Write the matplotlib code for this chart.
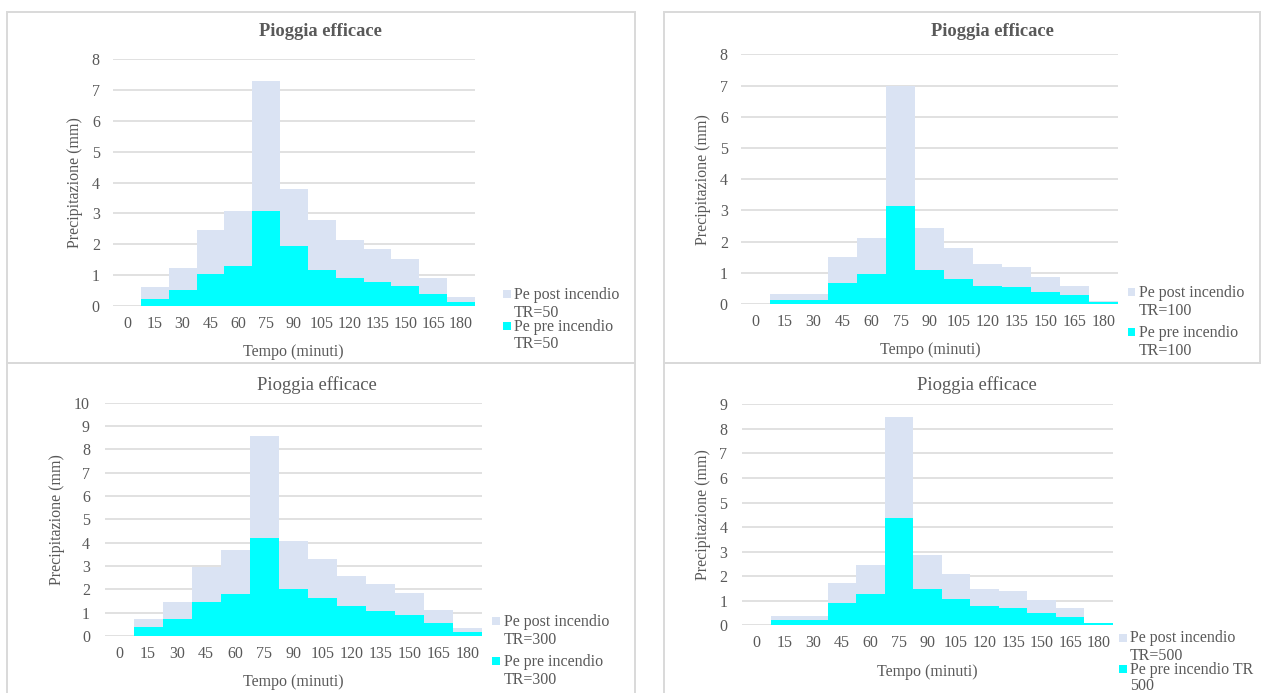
import matplotlib
matplotlib.use("Agg")
import matplotlib.pyplot as plt
from matplotlib.patches import Rectangle

# ---- data -------------------------------------------------------------
tempo = [0, 15, 30, 45, 60, 75, 90, 105, 120, 135, 150, 165, 180]

post_tr50 = [0, 0.61, 1.24, 2.46, 3.08, 7.30, 3.79, 2.78, 2.15, 1.85, 1.54, 0.92, 0.29]
pre_tr50 = [0, 0.24, 0.51, 1.04, 1.30, 3.07, 1.94, 1.17, 0.90, 0.78, 0.65, 0.38, 0.12]

post_tr100 = [0, 0.32, 0.32, 1.49, 2.12, 6.99, 2.44, 1.81, 1.27, 1.19, 0.88, 0.59, 0.10]
pre_tr100 = [0, 0.14, 0.14, 0.67, 0.96, 3.15, 1.10, 0.81, 0.59, 0.53, 0.40, 0.28, 0.05]

post_tr300 = [0, 0.74, 1.47, 2.96, 3.70, 8.57, 4.07, 3.31, 2.59, 2.21, 1.84, 1.10, 0.36]
pre_tr300 = [0, 0.37, 0.74, 1.46, 1.81, 4.21, 2.01, 1.64, 1.27, 1.09, 0.90, 0.54, 0.19]

post_tr500 = [0, 0.38, 0.38, 1.74, 2.47, 8.49, 2.85, 2.10, 1.49, 1.40, 1.03, 0.71, 0.11]
pre_tr500 = [0, 0.20, 0.20, 0.90, 1.28, 4.37, 1.47, 1.09, 0.77, 0.71, 0.52, 0.35, 0.08]

legend_post = ["Pe post incendio\nTR=50", "Pe post incendio\nTR=100",
               "Pe post incendio\nTR=300", "Pe post incendio\nTR=500"]
legend_pre = ["Pe pre incendio\nTR=50", "Pe pre incendio\nTR=100",
              "Pe pre incendio\nTR=300", "Pe pre incendio TR\n500"]
y_max = [8, 8, 10, 9]

# ---- style ------------------------------------------------------------
W, H = 1261, 693
FONT = "Liberation Serif"
TXT = "#595959"
GRID = "#d9d9d9"
C_POST = "#dae3f3"
C_PRE = "#00ffff"
FS = 11.5
FS_TITLE = 13.3

fig = plt.figure(figsize=(W / 100, H / 100), dpi=100)
fig.patch.set_facecolor("white")


def fx(px):
    return px / W


def fy(py):
    return 1 - py / H


def text(x, y, s, **kw):
    kw.setdefault("fontsize", FS)
    kw.setdefault("color", TXT)
    kw.setdefault("family", FONT)
    fig.text(fx(x), fy(y), s, **kw)


# chart frames
frames = [(7, 12, 635, 363), (664, 12, 1260, 363),
          (7, 363, 635, 705), (664, 363, 1275, 705)]
for x0, y0, x1, y1 in frames:
    fig.patches.append(Rectangle((fx(x0), fy(y1)), fx(x1 - x0), (y1 - y0) / H,
                                 transform=fig.transFigure, fill=False,
                                 edgecolor=GRID, linewidth=1.4, zorder=0))

# per-panel layout: plot box (left, right, y of zero, y of top), label anchors
panels = [
    dict(post=post_tr50, pre=pre_tr50, box=(113, 475, 306, 59.3),
         title=(320, 31), bold=True, ylab=(75, 183), xlab=(293, 352),
         sq_x=(503, 511), tx=514, lines=(295, 312.7, 327.3, 344), ypad=9.5),
    dict(post=post_tr100, pre=pre_tr100, box=(741, 1118, 304, 54.3),
         title=(992, 32), bold=True, ylab=(703, 180), xlab=(930, 350),
         sq_x=(1128, 1135), tx=1139, lines=(293.3, 311, 332.7, 350.7), ypad=9.5),
    dict(post=post_tr300, pre=pre_tr300, box=(104.5, 482, 636, 402.7),
         title=(317, 385), bold=False, ylab=(57, 520), xlab=(293, 682),
         sq_x=(492, 500), tx=503.5, lines=(622.3, 640, 661.7, 680), ypad=10.5),
    dict(post=post_tr500, pre=pre_tr500, box=(742, 1113, 625.3, 404.3),
         title=(977, 385), bold=False, ylab=(703, 515), xlab=(927, 672),
         sq_x=(1119, 1127), tx=1130, lines=(638.5, 655.5, 670, 686.5), ypad=10.5),
]

for i, p in enumerate(panels):
    left, right, y0, ytop = p["box"]
    ax = fig.add_axes([fx(left), fy(y0), fx(right - left), (y0 - ytop) / H])
    pos = list(range(len(tempo)))
    ax.bar(pos, p["post"], width=1.0, color=C_POST, linewidth=0, zorder=2)
    ax.bar(pos, p["pre"], width=1.0, color=C_PRE, linewidth=0, zorder=3)
    ax.set_xlim(-0.5, len(tempo) - 0.5)
    ax.set_ylim(0, y_max[i])
    ax.set_yticks(range(0, y_max[i] + 1))
    ax.set_xticks(pos)
    ax.set_xticklabels([str(t) for t in tempo])
    ax.grid(axis="y", color=GRID, linewidth=1.1, zorder=1)
    ax.set_axisbelow(True)
    for s in ax.spines.values():
        s.set_visible(False)
    ax.tick_params(axis="both", length=0, labelsize=FS, labelcolor=TXT)
    ax.tick_params(axis="x", pad=7)
    ax.tick_params(axis="y", pad=p["ypad"])
    for lab in ax.get_xticklabels() + ax.get_yticklabels():
        lab.set_family(FONT)
    ax.patch.set_alpha(0)

    text(p["title"][0], p["title"][1], "Pioggia efficace", fontsize=FS_TITLE,
         ha="center", va="center", weight="bold" if p["bold"] else "normal")
    text(p["ylab"][0], p["ylab"][1], "Precipitazione (mm)", rotation=90,
         ha="center", va="center")
    text(p["xlab"][0], p["xlab"][1], "Tempo (minuti)", ha="center", va="center")

    # legend
    l1, l2, l3, l4 = p["lines"]
    post_lines = legend_post[i].split("\n")
    pre_lines = legend_pre[i].split("\n")
    sx0, sx1 = p["sq_x"]
    for yc, col in ((l1 - 1, C_POST), (l3 - 1, C_PRE)):
        fig.patches.append(Rectangle((fx(sx0), fy(yc + 4)), fx(sx1 - sx0), 8 / H,
                                     transform=fig.transFigure, facecolor=col,
                                     edgecolor="none"))
    for yc, s in zip((l1, l2), post_lines):
        text(p["tx"], yc, s, ha="left", va="center")
    for yc, s in zip((l3, l4), pre_lines):
        text(p["tx"], yc, s, ha="left", va="center")

fig.savefig("out.png", dpi=100, facecolor="white")
